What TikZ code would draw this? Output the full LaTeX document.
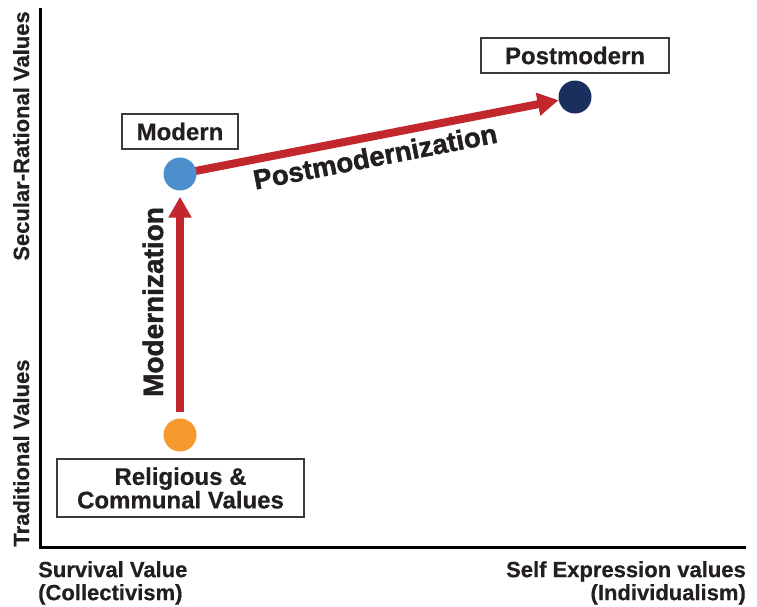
\documentclass[tikz,border=0pt]{standalone}
\usepackage{fontspec}
\setmainfont{Liberation Sans}[BoldFeatures={FakeBold=0.5}]
\newfontfamily\heavyfont{Liberation Sans Bold}[FakeBold=1.6]
\usetikzlibrary{arrows.meta,backgrounds}
\definecolor{arrred}{HTML}{C1272D}
\definecolor{dotblue}{HTML}{4D8FCC}
\definecolor{dotorange}{HTML}{F6992F}
\definecolor{dotnavy}{HTML}{1B2F5E}
\definecolor{txt}{HTML}{231F20}
\definecolor{boxgray}{HTML}{3A3A3A}
\begin{document}
\begin{tikzpicture}[x=1pt,y=-1pt,
  boxlbl/.style={draw=boxgray, line width=1.3pt, fill=white, inner sep=0pt, text=txt,
    font=\fontsize{24}{23.5}\selectfont\bfseries, align=center},
  axislbl/.style={text=txt, inner sep=0pt, font=\fontsize{22}{23}\selectfont\bfseries},
  flowlbl/.style={text=txt, inner sep=0pt, anchor=base},
  dot/.style={circle, minimum size=33pt, inner sep=0pt},
  flow/.style={draw=arrred, line width=8pt, -{Triangle[length=21pt,width=22pt]}},
]
\useasboundingbox (0,0) rectangle (757,606);

% axes
\coordinate (ytop) at (40,8);
\coordinate (origin) at (40,547);
\coordinate (xend) at (746,547);
\draw[line width=3pt, line join=miter] (ytop) -- (origin) -- (xend);

% axis labels
\node[axislbl, rotate=90, anchor=base] (secular) at (29,136) {Secular-Rational Values};
\node[axislbl, rotate=90, anchor=base] (traditional) at (29,453) {Traditional Values};
\node[axislbl, anchor=north west, align=left] (survival) at (38,561) {Survival Value\\(Collectivism)};
\node[axislbl, anchor=north east, align=right] (selfexp) at (746,561) {Self Expression values\\(Individualism)};

% points
\node[dot, fill=dotorange] (religious) at (180,435) {};
\node[dot, fill=dotblue] (modern) at (180,174) {};
\node[dot, fill=dotnavy] (postmodern) at (575,97) {};

% boxes
\node[boxlbl, minimum width=116pt, minimum height=35pt] (modernbox) at (180,131.5) {Modern};
\node[boxlbl, minimum width=188pt, minimum height=35pt] (postbox) at (575,55.5) {Postmodern};
\node[boxlbl, minimum width=247pt, minimum height=58pt] (relbox) at (180.5,488) {Religious \&\\Communal Values};

% arrows
\begin{scope}[on background layer]
\draw[flow, shorten <=6pt, shorten >=6pt] (religious.north) -- (modern.south);
\draw[flow] (modern.center) -- (postmodern);
\end{scope}

% arrow labels
\node[flowlbl, rotate=90, font=\fontsize{28}{30}\heavyfont] (modlbl) at (163,302) {Modernization};
\node[flowlbl, rotate=11, font=\fontsize{27.5}{30}\heavyfont] (postlbl) at (377,166) {Postmodernization};
\end{tikzpicture}
\end{document}
